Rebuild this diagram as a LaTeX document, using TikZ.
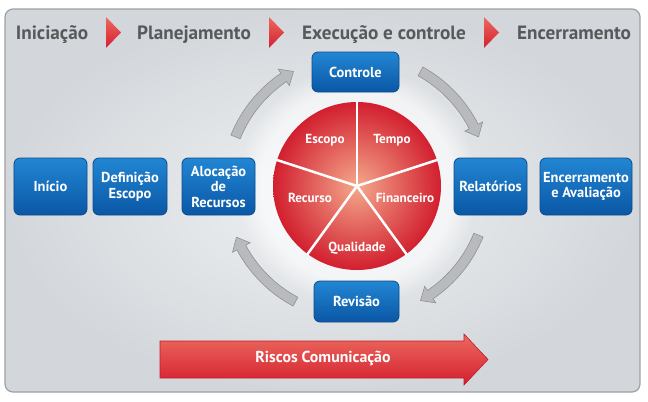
\documentclass[tikz,border=0pt]{standalone}
\usepackage{fontspec}
\setmainfont{PT Sans}
\usetikzlibrary{calc,fadings}
\definecolor{hdr}{HTML}{58595B}
\definecolor{boxtop}{HTML}{2286D3}
\definecolor{boxbot}{HTML}{0A57A5}
\definecolor{boxline}{HTML}{0B4C8C}
\definecolor{piein}{HTML}{F4A88C}
\definecolor{pieout}{HTML}{D21F2F}
\definecolor{arrfill}{HTML}{B9BABD}
\definecolor{arrline}{HTML}{8F9194}
\definecolor{panelin}{HTML}{EFF1F3}
\definecolor{panelout}{HTML}{D3D7DB}
\definecolor{panelline}{HTML}{9DA1A5}
\definecolor{redtop}{HTML}{EC6A5E}
\definecolor{redbot}{HTML}{D41F2F}
\definecolor{redline}{HTML}{C21B29}
\newcommand\grayarc[2]{%
  \pgfmathsetmacro\hb{#2-5}%
  \path[draw=arrline, fill=arrfill, line width=0.6bp, line join=miter]
    (#1:136) arc[start angle=#1, end angle=\hb, radius=136]
    -- (\hb:141) -- (#2:131) -- (\hb:121) -- (\hb:126)
    arc[start angle=\hb, end angle=#1, radius=126] -- cycle;}
\begin{document}
\begin{tikzpicture}[x=1bp,y=-1bp,
  bluebox/.style={rounded corners=6bp, draw=boxline, line width=0.8bp,
    top color=boxtop, bottom color=boxbot, text=white,
    font=\bfseries\fontsize{14.5}{15.5}\selectfont, align=center, inner sep=0pt},
  pielabel/.style={text=white, font=\bfseries\fontsize{13.2}{15}\selectfont},
  header/.style={text=hdr, font=\bfseries\fontsize{19.3}{21}\selectfont, anchor=base},
  redtri/.style={top color=redtop, bottom color=redbot, draw=none}]
\useasboundingbox[fill=white] (0,0) rectangle (648,401);
% panel
\path[draw=panelline, line width=1.2bp, rounded corners=8bp,
  inner color=panelin, outer color=panelout] (5,9) rectangle (640,392);
% header
\node[header] (h1) at (52,39) {Iniciação};
\node[header] (h2) at (194,39) {Planejamento};
\node[header] (h3) at (384,39) {Execução e controle};
\node[header] (h4) at (574,39) {Encerramento};
\path[redtri] (106,17) -- (121,32.5) -- (106,48) -- cycle;
\path[redtri] (269,17) -- (284,32.5) -- (269,48) -- cycle;
\path[redtri] (484,17) -- (499,32.5) -- (484,48) -- cycle;
% glow
\coordinate (pc) at (357,186);
\fill[white, opacity=0.6, path fading=circle with fuzzy edge 20 percent] (pc) circle[radius=120];
% gray curved arrows
\begin{scope}[shift={(pc)}]
  \grayarc{-158}{-119}
  \grayarc{-61}{-22}
  \grayarc{22}{61}
  \grayarc{118}{157}
\end{scope}
% pie
\shade[inner color=piein, outer color=pieout] (pc) circle[radius=84];
\foreach \a in {-90,-18,54,126,198}
  \draw[white, line width=2.5bp] (pc) -- ++(\a:84.5);
\node[pielabel] (escopo) at (325,140) {Escopo};
\node[pielabel] (tempo) at (392,140) {Tempo};
\node[pielabel] (recurso) at (310,198) {Recurso};
\node[pielabel] (financ) at (405,198) {Financeiro};
\node[pielabel] (qualid) at (357,248) {Qualidade};
% blue boxes
\node[bluebox, minimum width=73bp, minimum height=57bp] (inicio) at (50.5,186.5) {Início};
\node[bluebox, minimum width=74bp, minimum height=57bp] (defin) at (130,186.5) {Definição\\Escopo};
\node[bluebox, minimum width=73bp, minimum height=57bp] (aloc) at (218.5,186.5) {Alocação\\de\\Recursos};
\node[bluebox, minimum width=73bp, minimum height=57bp] (relat) at (490.5,186.5) {Relatórios};
\node[bluebox, minimum width=92bp, minimum height=57bp] (encer) at (586,186.5) {Encerramento\\e Avaliação};
\node[bluebox, minimum width=87bp, minimum height=40bp] (contr) at (355.5,72) {Controle};
\node[bluebox, minimum width=85bp, minimum height=41bp] (revis) at (356.5,301.5) {Revisão};
% big red arrow
\path[draw=redline, line width=0.6bp, top color=redtop, bottom color=redbot]
  (160,341) -- (464,341) -- (464,334) -- (488,359.5) -- (464,385) -- (464,378) -- (160,378) -- cycle;
\node[text=white, font=\bfseries\fontsize{15.9}{17}\selectfont] (riscos) at (323,358) {Riscos Comunicação};
\end{tikzpicture}
\end{document}
